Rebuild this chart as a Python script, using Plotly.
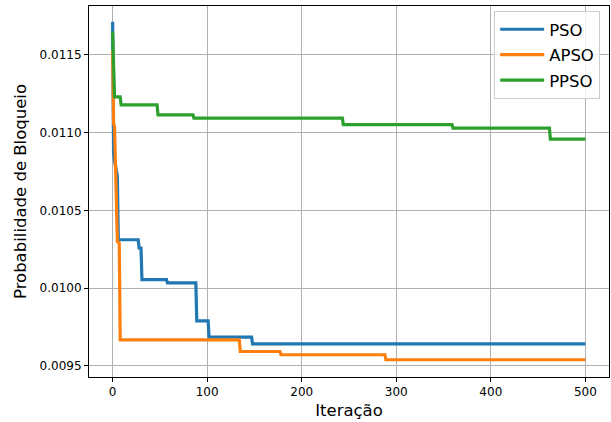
import plotly.graph_objects as go

# PSO best-so-far (iteration, value) points
pso_iter = [0, 1, 2, 3, 4, 5, 6, 27, 28, 30, 31, 57, 58, 88, 89, 101, 102, 147, 148, 500]
pso_val = [0.011714, 0.01087, 0.01082, 0.01078, 0.01075, 0.01072, 0.010311, 0.010311, 0.010258, 0.010258,
           0.010054, 0.010054, 0.010033, 0.010033, 0.009789, 0.009789, 0.009684, 0.009684, 0.009641, 0.009641]

# APSO
apso_iter = [0, 1, 2, 3, 4, 5, 7, 8, 134, 135, 177, 178, 288, 289, 500]
apso_val = [0.01153, 0.01106, 0.01104, 0.01075, 0.01045, 0.01030, 0.01029, 0.009667, 0.009667, 0.009592,
            0.009592, 0.009571, 0.009571, 0.009539, 0.009539]

# PPSO
ppso_iter = [0, 1, 2, 8, 9, 47, 48, 85, 86, 243, 244, 359, 360, 462, 463, 500]
ppso_val = [0.01165, 0.011455, 0.01123, 0.01123, 0.011179, 0.011179, 0.011114, 0.011114, 0.011093, 0.011093,
            0.011052, 0.011052, 0.011029, 0.011029, 0.010958, 0.010958]

x_ticks = [0, 100, 200, 300, 400, 500]
y_ticks = [0.0095, 0.0100, 0.0105, 0.0110, 0.0115]

series = [
    ("PSO", pso_iter, pso_val, "#1f77b4"),
    ("APSO", apso_iter, apso_val, "#ff7f0e"),
    ("PPSO", ppso_iter, ppso_val, "#2ca02c"),
]

fig = go.Figure()
for name, xs, ys, color in series:
    fig.add_trace(go.Scatter(x=xs, y=ys, mode="lines", name=name, legendgroup=name,
                             line=dict(color=color, width=3.2)))

font = "DejaVu Sans, Liberation Sans, sans-serif"
fig.update_layout(
    width=611, height=422,
    margin=dict(l=89, r=2, t=6, b=45),
    paper_bgcolor="white", plot_bgcolor="white",
    font=dict(family=font, color="#000000"),
    showlegend=True,
    legend=dict(x=0.983, y=0.9865, xanchor="right", yanchor="top",
                bgcolor="rgba(255,255,255,0.8)", bordercolor="#cccccc", borderwidth=1,
                font=dict(size=16.5, family=font), traceorder="grouped", tracegroupgap=1,
                itemwidth=44),
)
fig.update_xaxes(
    range=[-25, 525], tickvals=x_ticks, ticktext=[str(v) for v in x_ticks],
    showgrid=True, gridcolor="#b0b0b0", gridwidth=0.8, zeroline=False,
    showline=True, mirror=True, linecolor="black", linewidth=1,
    ticks="outside", ticklen=4, tickcolor="black", tickfont=dict(size=12, family=font),
    title=dict(text="Iteração", font=dict(size=16.5, family=font), standoff=6),
)
fig.update_yaxes(
    range=[0.009428, 0.011815], tickvals=y_ticks, ticktext=[f"{v:.4f}" for v in y_ticks],
    showgrid=True, gridcolor="#b0b0b0", gridwidth=0.8, zeroline=False,
    showline=True, mirror=True, linecolor="black", linewidth=1,
    ticks="outside", ticklen=4, tickcolor="black", tickfont=dict(size=12, family=font),
    title=dict(text="Probabilidade de Bloqueio", font=dict(size=16.5, family=font), standoff=8),
)
fig.write_html("out.html", config={"displayModeBar": False},
               post_script="document.body.style.margin='0';document.body.style.overflow='hidden';")
